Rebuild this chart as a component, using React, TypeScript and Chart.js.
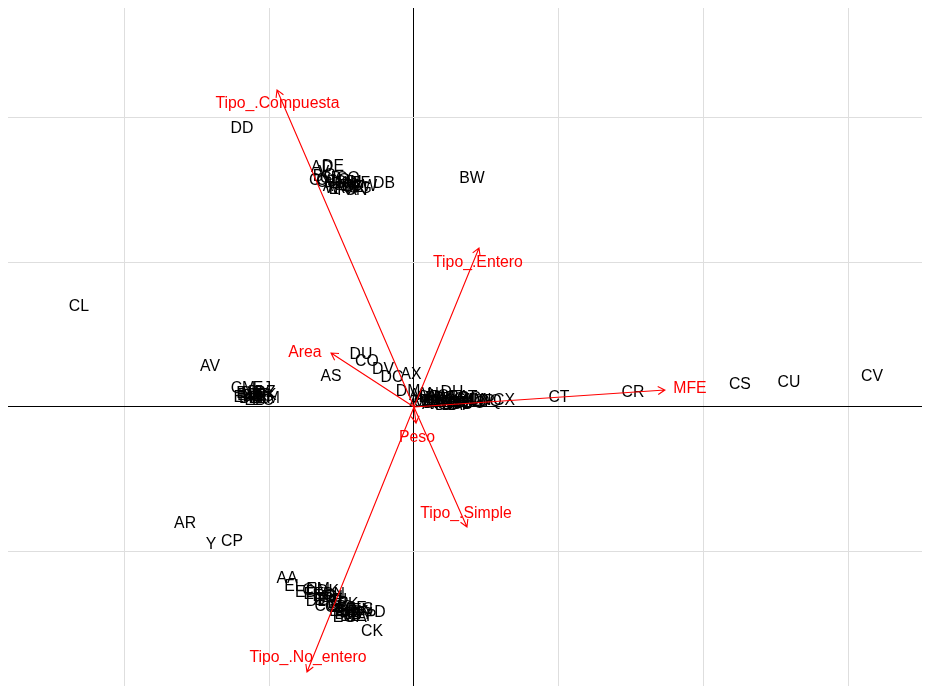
import React, { useEffect, useRef } from "react";
import { Chart, registerables } from "chart.js";

Chart.register(...registerables);

// Observations (individuals) on PC1 / PC2
const obsNames = [
  "DD", "BW", "CL", "AV", "AR", "Y", "CP", "CT", "CR", "CS", "CU", "CV",
  "AD", "DE", "EF", "DB", "B", "C", "G", "H", "I", "J", "K", "L", "M", "N", "O", "P", "Q", "R", "T", "U", "V", "W", "X", "Z",
  "A", "E", "F", "CD", "CF", "CG", "CH", "CJ", "CN", "CQ", "CW", "CY",
  "DM", "DH", "CX", "AX", "DC", "DV", "CO", "DU", "AS", "DN",
  "AB", "AC", "AE", "AF", "AG", "AH", "AI", "AJ", "AK", "AL", "AM", "AN", "AO", "AP", "AQ", "AT", "AU", "AW", "AY", "AZ", "BA", "BB", "BC",
  "CZ", "DA", "DF", "DG", "DJ", "DO", "DP", "DQ", "DR", "DS", "DT", "DW",
  "CM", "EJ", "BD", "BE", "BF", "BG", "BH", "BI", "BJ", "BK", "BL", "BM",
  "DX", "DY", "DZ", "EA", "EB", "EC",
  "AA", "EL", "CI", "EM", "DK", "BN", "DI", "DL", "BO", "BP", "BQ", "BR", "BS", "BT", "BU", "BV", "BX", "BY", "BZ", "CA", "CB", "CC", "S", "D", "CK",
  "ED", "EE", "EG", "EH", "EI", "EK", "CE", "EN", "EO", "EP",
];
const obsPC1 = [
  -1.188, 0.401, -2.314, -1.409, -1.581, -1.402, -1.257, 1.001, 1.512, 2.251, 2.59, 3.163,
  -0.635, -0.559, -0.373, -0.207, -0.663, -0.635, -0.608, -0.58, -0.552, -0.525, -0.497, -0.47, -0.442, -0.414, -0.58, -0.539, -0.483, -0.511, -0.456, -0.401, -0.622, -0.566, -0.428, -0.387,
  -0.594, -0.552, -0.497, -0.47, -0.428, -0.373, -0.525, -0.608, -0.401, -0.456, -0.345, -0.649,
  -0.041, 0.262, 0.622, -0.021, -0.152, -0.214, -0.325, -0.366, -0.573, 0.456,
  0.076, 0.11, 0.145, 0.18, 0.214, 0.249, 0.283, 0.318, 0.352, 0.387, 0.421, 0.097, 0.166, 0.235, 0.304, 0.373, 0.041, 0.055, 0.124, 0.193, 0.262, 0.331, 0.387,
  0.069, 0.138, 0.207, 0.276, 0.345, 0.414, 0.483, 0.525, 0.11, 0.221, 0.304, 0.152,
  -1.181, -1.05, -1.146, -1.112, -1.077, -1.043, -1.133, -1.091, -1.057, -1.022, -1.16, -1.008,
  -1.119, -1.07, -1.029, -1.174, -1.098, -1.043,
  -0.877, -0.829, -0.718, -0.663, -0.594, -0.552, -0.635, -0.677, -0.58, -0.525, -0.497, -0.47, -0.442, -0.414, -0.511, -0.477, -0.387, -0.359, -0.442, -0.401, -0.539, -0.608, -0.318, -0.235, -0.29,
  -0.746, -0.691, -0.622, -0.566, -0.511, -0.456, -0.401, -0.359, -0.483, -0.331,
];
const obsPC2 = [
  1.928, 1.583, 0.698, 0.283, -0.802, -0.947, -0.926, 0.069, 0.104, 0.159, 0.173, 0.214,
  1.659, 1.666, 1.548, 1.548, 1.596, 1.569, 1.583, 1.548, 1.562, 1.534, 1.548, 1.527, 1.541, 1.527, 1.603, 1.583, 1.569, 1.513, 1.507, 1.555, 1.624, 1.513, 1.5, 1.52,
  1.527, 1.507, 1.5, 1.555, 1.52, 1.513, 1.562, 1.555, 1.5, 1.583, 1.527, 1.569,
  0.111, 0.104, 0.048, 0.228, 0.207, 0.263, 0.318, 0.366, 0.214, 0.048,
  0.062, 0.041, 0.055, 0.035, 0.048, 0.028, 0.041, 0.035, 0.048, 0.041, 0.048, 0.09, 0.076, 0.069, 0.062, 0.069, 0.083, 0.041, 0.021, 0.021, 0.014, 0.021, 0.062,
  0.035, 0.028, 0.062, 0.055, 0.028, 0.028, 0.041, 0.041, 0.069, 0.014, 0.014, 0.041,
  0.131, 0.131, 0.083, 0.076, 0.083, 0.076, 0.062, 0.062, 0.062, 0.083, 0.097, 0.062,
  0.097, 0.104, 0.104, 0.069, 0.048, 0.048,
  -1.182, -1.237, -1.265, -1.258, -1.272, -1.292, -1.334, -1.341, -1.334, -1.355, -1.382, -1.403, -1.417, -1.431, -1.41, -1.431, -1.417, -1.431, -1.444, -1.451, -1.382, -1.375, -1.396, -1.417, -1.548,
  -1.278, -1.292, -1.306, -1.313, -1.334, -1.361, -1.389, -1.403, -1.451, -1.444,
];

// Variables (loading arrows)
const varNames = ["Tipo_.Compuesta", "Tipo_.Entero", "MFE", "Area", "Peso", "Tipo_.Simple", "Tipo_.No_entero"];
const varPC1 = [-0.946, 0.449, 1.733, -0.573, 0.014, 0.366, -0.739];
const varPC2 = [2.191, 1.099, 0.117, 0.373, -0.111, -0.829, -1.831];
const varLabelPC1 = [-0.943, 0.442, 1.906, -0.753, 0.021, 0.359, -0.732];
const varLabelPC2 = [2.101, 1.002, 0.131, 0.38, -0.207, -0.733, -1.728];

const xGridTicks = [-2, -1, 0, 1, 2, 3];
const yGridTicks = [-1, 0, 1, 2];
const xRange = [-2.804, 3.564];
const yRange = [-1.928, 2.757];

const FONT = '15.8px "Liberation Sans", Arial, sans-serif';

const biplotPlugin = {
  id: "biplot",
  beforeDatasetsDraw(chart: any) {
    const { ctx, scales } = chart;
    const x = scales.x;
    const y = scales.y;
    ctx.save();
    ctx.font = FONT;
    ctx.fillStyle = "#000000";
    ctx.textAlign = "center";
    ctx.textBaseline = "middle";
    obsNames.forEach((n, i) => {
      ctx.fillText(n, x.getPixelForValue(obsPC1[i]), y.getPixelForValue(obsPC2[i]) + 1);
    });
    ctx.restore();
  },
  afterDatasetsDraw(chart: any) {
    const { ctx, scales } = chart;
    const x = scales.x;
    const y = scales.y;
    const ox = x.getPixelForValue(0);
    const oy = y.getPixelForValue(0);
    ctx.save();
    ctx.strokeStyle = "#ff0000";
    ctx.lineWidth = 1.1;
    varNames.forEach((_, i) => {
      const tx = x.getPixelForValue(varPC1[i]);
      const ty = y.getPixelForValue(varPC2[i]);
      const a = Math.atan2(ty - oy, tx - ox);
      const L = 8;
      ctx.beginPath();
      ctx.moveTo(ox, oy);
      ctx.lineTo(tx, ty);
      ctx.moveTo(tx - L * Math.cos(a - Math.PI / 6), ty - L * Math.sin(a - Math.PI / 6));
      ctx.lineTo(tx, ty);
      ctx.lineTo(tx - L * Math.cos(a + Math.PI / 6), ty - L * Math.sin(a + Math.PI / 6));
      ctx.stroke();
    });
    ctx.font = FONT;
    ctx.fillStyle = "#ff0000";
    ctx.textAlign = "center";
    ctx.textBaseline = "middle";
    varNames.forEach((n, i) => {
      ctx.fillText(n, x.getPixelForValue(varLabelPC1[i]), y.getPixelForValue(varLabelPC2[i]) + 1);
    });
    ctx.restore();
  },
};

export default function App() {
  const ref = useRef<HTMLCanvasElement | null>(null);
  useEffect(() => {
    if (!ref.current) return;
    const gridColor = (c: any) => (c.tick && c.tick.value === 0 ? "#000000" : "#dedede");
    const chart = new Chart(ref.current, {
      type: "scatter",
      data: {
        datasets: [
          {
            label: "obs",
            data: obsPC1.map((v, i) => ({ x: v, y: obsPC2[i] })),
            pointRadius: 0,
            pointHoverRadius: 0,
          },
        ],
      },
      options: {
        responsive: false,
        animation: false,
        layout: { padding: 0 },
        plugins: { legend: { display: false }, tooltip: { enabled: false } },
        events: [],
        scales: {
          x: {
            type: "linear",
            min: xRange[0],
            max: xRange[1],
            afterBuildTicks: (s: any) => {
              s.ticks = xGridTicks.map((v) => ({ value: v }));
            },
            ticks: { display: false },
            border: { display: false },
            grid: { color: gridColor, lineWidth: 1, drawTicks: false },
          },
          y: {
            type: "linear",
            min: yRange[0],
            max: yRange[1],
            afterBuildTicks: (s: any) => {
              s.ticks = yGridTicks.map((v) => ({ value: v }));
            },
            ticks: { display: false },
            border: { display: false },
            grid: { color: gridColor, lineWidth: 1, drawTicks: false },
          },
        },
      },
      plugins: [biplotPlugin],
    });
    return () => chart.destroy();
  }, []);
  return (
    <div style={{ width: 922, height: 678 }}>
      <canvas ref={ref} width={922} height={678} style={{ display: "block" }} />
    </div>
  );
}
